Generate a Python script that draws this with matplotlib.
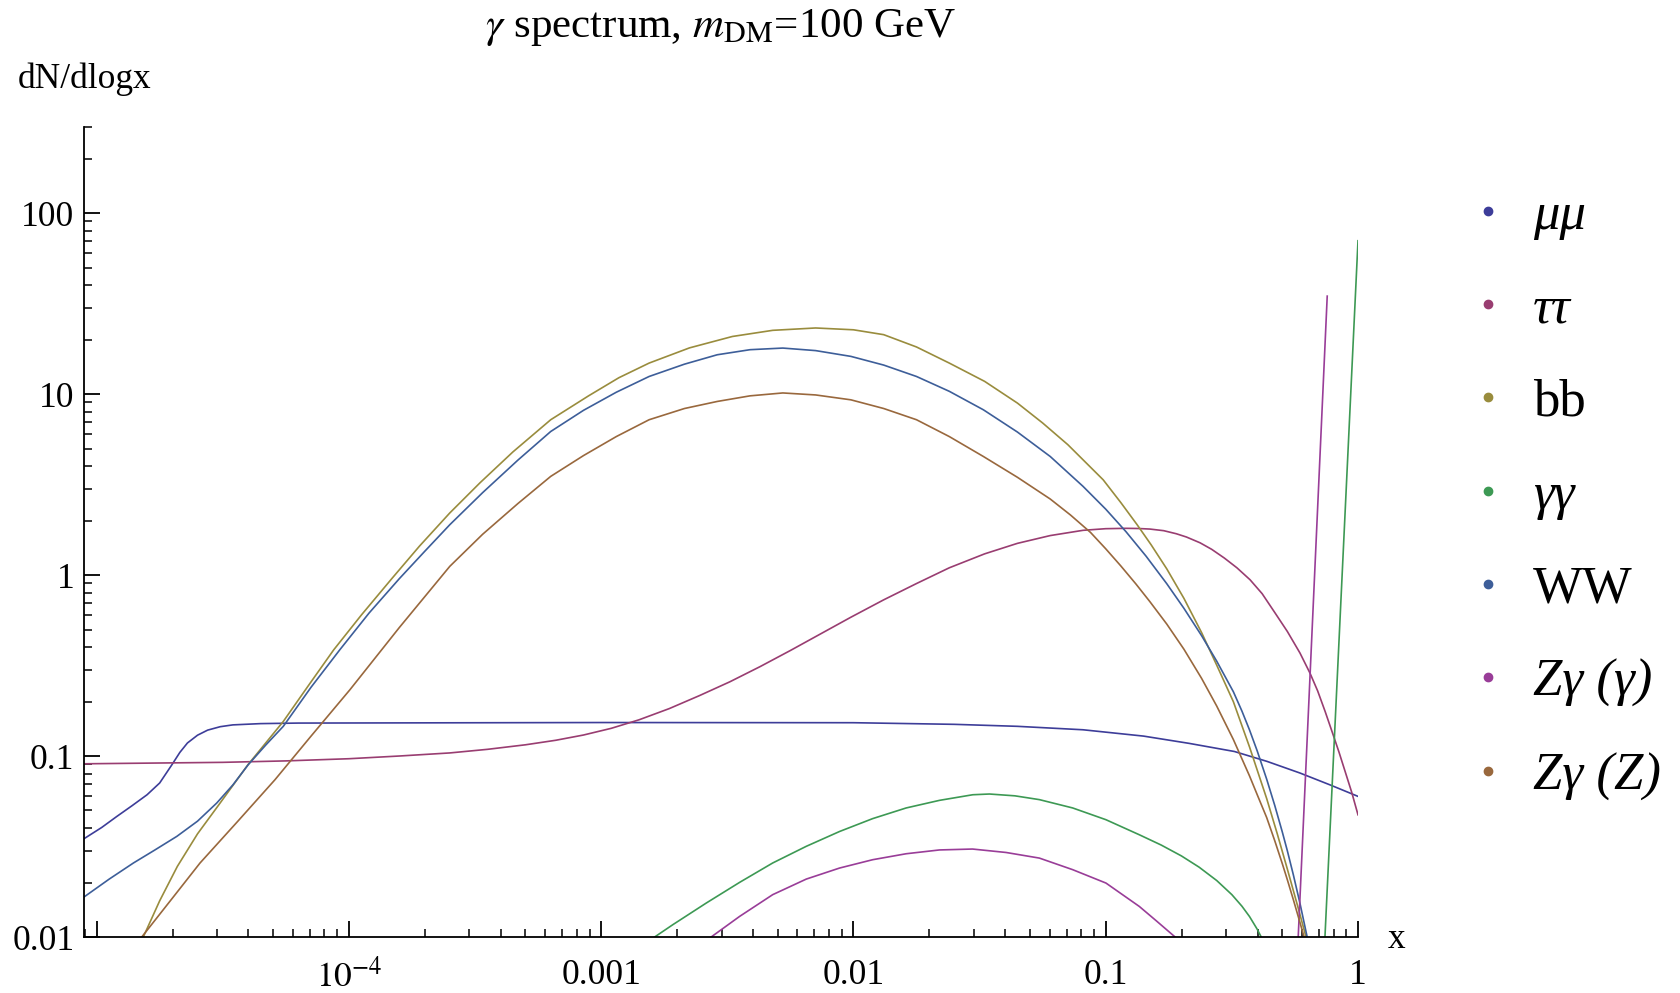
import numpy as np
import matplotlib
matplotlib.use('Agg')
import matplotlib.pyplot as plt
from matplotlib.lines import Line2D
from matplotlib.ticker import FixedLocator, FixedFormatter, LogLocator, NullFormatter

plt.rcParams['font.family'] = ['Liberation Serif', 'DejaVu Serif']
plt.rcParams['mathtext.fontset'] = 'stix'

# curves, stored as log10(x), log10(dN/dlogx)
mumu_lx = [-5.05, -4.98, -4.92, -4.86, -4.80, -4.75, -4.70, -4.67, -4.64, -4.60, -4.56, -4.51, -4.46, -4.35, -4.2,
           -3.0, -2.0, -1.6, -1.35, -1.09, -0.85, -0.67, -0.49, -0.36, -0.23, -0.11, 0.0]
mumu_ly = [-1.457, -1.395, -1.334, -1.275, -1.214, -1.149, -1.045, -0.98, -0.928, -0.885, -0.857, -0.838, -0.828, -0.821, -0.818,
           -0.815, -0.816, -0.825, -0.836, -0.855, -0.89, -0.93, -0.975, -1.03, -1.094, -1.16, -1.223]

tautau_lx = [-5.05, -4.5, -4.25, -4.0, -3.8, -3.6, -3.45, -3.3, -3.18, -3.07, -2.96, -2.85, -2.73, -2.61, -2.49,
             -2.37, -2.25, -2.13, -2.01, -1.88, -1.75, -1.62, -1.48, -1.35, -1.22, -1.09, -1.0, -0.92, -0.87,
             -0.825, -0.77, -0.72, -0.68, -0.626, -0.58, -0.53, -0.48, -0.428, -0.38, -0.33, -0.28, -0.23, -0.19,
             -0.16, -0.13, -0.098, -0.075, -0.05, -0.025, 0.0]
tautau_ly = [-1.043, -1.035, -1.027, -1.015, -1.0, -0.983, -0.963, -0.938, -0.913, -0.884, -0.847, -0.80, -0.738, -0.666, -0.59,
             -0.506, -0.417, -0.325, -0.233, -0.137, -0.047, 0.04, 0.117, 0.175, 0.218, 0.247, 0.256, 0.258, 0.257,
             0.254, 0.245, 0.228, 0.21, 0.178, 0.142, 0.094, 0.04, -0.026, -0.103, -0.207, -0.312, -0.431, -0.543,
             -0.64, -0.755, -0.885, -0.98, -1.09, -1.20, -1.325]

bb_lx = [-4.815, -4.75, -4.68, -4.60, -4.52, -4.40, -4.26, -4.16, -4.06, -3.95, -3.83, -3.72, -3.6, -3.48, -3.35,
         -3.2, -3.05, -2.93, -2.81, -2.65, -2.48, -2.32, -2.15, -2.0, -1.88, -1.75, -1.62, -1.48, -1.35, -1.25,
         -1.15, -1.01, -0.94, -0.875, -0.82, -0.758, -0.69, -0.62, -0.56, -0.494, -0.43, -0.362, -0.32, -0.28,
         -0.24, -0.204]
bb_ly = [-2.0, -1.80, -1.61, -1.43, -1.278, -1.048, -0.809, -0.61, -0.413, -0.22, -0.02, 0.16, 0.343, 0.51, 0.68,
         0.858, 0.99, 1.09, 1.171, 1.255, 1.318, 1.352, 1.365, 1.355, 1.328, 1.26, 1.171, 1.07, 0.95, 0.84,
         0.72, 0.526, 0.40, 0.277, 0.167, 0.034, -0.129, -0.318, -0.498, -0.70, -0.95, -1.235, -1.43, -1.625,
         -1.825, -2.01]

# gamma gamma: continuum arc + line near x=1
gg_lx = [-2.788, -2.716, -2.583, -2.451, -2.320, -2.187, -2.055, -1.924, -1.791, -1.659, -1.527, -1.461, -1.36,
         -1.263, -1.131, -0.999, -0.867, -0.78, -0.70, -0.63, -0.56, -0.50, -0.46, -0.43, -0.40, -0.38]
gg_ly = [-2.0, -1.932, -1.812, -1.698, -1.591, -1.499, -1.417, -1.346, -1.287, -1.245, -1.214, -1.210, -1.22,
         -1.241, -1.287, -1.352, -1.435, -1.492, -1.552, -1.614, -1.688, -1.766, -1.83, -1.887, -1.956, -2.01]
gg_line_lx = [-0.131, 0.0]
gg_line_ly = [-2.0, 1.847]

ww_lx = [-5.05, -4.95, -4.854, -4.77, -4.682, -4.60, -4.524, -4.46, -4.399, -4.33, -4.26, -4.15, -4.036, -3.92,
         -3.8, -3.7, -3.6, -3.47, -3.33, -3.2, -3.07, -2.94, -2.81, -2.67, -2.54, -2.41, -2.28, -2.15, -2.01,
         -1.88, -1.75, -1.62, -1.485, -1.35, -1.22, -1.09, -1.0, -0.92, -0.84, -0.758, -0.69, -0.62, -0.56,
         -0.494, -0.46, -0.43, -0.40, -0.362, -0.33, -0.30, -0.28, -0.256, -0.23, -0.20]
ww_ly = [-1.779, -1.68, -1.591, -1.52, -1.444, -1.36, -1.260, -1.16, -1.048, -0.94, -0.836, -0.62, -0.413, -0.21,
         -0.02, 0.13, 0.278, 0.455, 0.635, 0.793, 0.91, 1.01, 1.097, 1.165, 1.217, 1.245, 1.254, 1.24, 1.208,
         1.16, 1.097, 1.015, 0.913, 0.79, 0.655, 0.49, 0.364, 0.24, 0.104, -0.048, -0.184, -0.335, -0.476,
         -0.645, -0.752, -0.856, -0.97, -1.128, -1.273, -1.42, -1.524, -1.658, -1.814, -2.01]

zgg_lx = [-2.564, -2.451, -2.320, -2.187, -2.055, -1.924, -1.791, -1.659, -1.528, -1.395, -1.263, -1.131, -0.999,
          -0.867, -0.80, -0.725]
zgg_ly = [-2.0, -1.886, -1.766, -1.680, -1.619, -1.573, -1.540, -1.519, -1.514, -1.533, -1.564, -1.628, -1.702,
          -1.831, -1.91, -2.0]
zgg_line_lx = [-0.237, -0.122]
zgg_line_ly = [-2.0, 1.541]

zgz_lx = [-4.821, -4.70, -4.59, -4.44, -4.293, -4.15, -3.996, -3.80, -3.6, -3.47, -3.33, -3.2, -3.07, -2.94, -2.81,
          -2.67, -2.54, -2.41, -2.28, -2.15, -2.01, -1.88, -1.75, -1.62, -1.485, -1.35, -1.22, -1.14, -1.06,
          -1.0, -0.94, -0.88, -0.825, -0.758, -0.69, -0.62, -0.56, -0.494, -0.43, -0.40, -0.362, -0.33, -0.30,
          -0.28, -0.256, -0.23, -0.21]
zgz_ly = [-2.0, -1.786, -1.591, -1.36, -1.131, -0.89, -0.634, -0.29, 0.048, 0.225, 0.395, 0.545, 0.66, 0.765, 0.858,
          0.92, 0.959, 0.99, 1.006, 0.995, 0.968, 0.92, 0.858, 0.765, 0.655, 0.54, 0.42, 0.332, 0.235,
          0.145, 0.05, -0.05, -0.147, -0.271, -0.41, -0.571, -0.724, -0.909, -1.11, -1.212, -1.34, -1.468, -1.595,
          -1.684, -1.795, -1.92, -2.018]

labels = ['μμ', 'ττ', 'bb', 'γγ', 'WW', 'Zγ (γ)', 'Zγ (Z)']
italic = [True, True, False, True, False, True, True]
colors = ['#3d3d99', '#993d71', '#998c3d', '#3d9954', '#3d5e99', '#993d98', '#99683d']

xtick_vals = [1e-5, 1e-4, 1e-3, 1e-2, 1e-1, 1]
xtick_labels = ['', '$10^{-4}$', '0.001', '0.01', '0.1', '1']
ytick_vals = [0.01, 0.1, 1, 10, 100]
ytick_labels = ['0.01', '0.1', '1', '10', '100']

fig = plt.figure(figsize=(16.81, 9.93), dpi=100)
ax = fig.add_axes([84/1681, 1-937/993, (1358-84)/1681, (937-126.7)/993])

curves = [
    [(mumu_lx, mumu_ly)],
    [(tautau_lx, tautau_ly)],
    [(bb_lx, bb_ly)],
    [(gg_lx, gg_ly), (gg_line_lx, gg_line_ly)],
    [(ww_lx, ww_ly)],
    [(zgg_lx, zgg_ly), (zgg_line_lx, zgg_line_ly)],
    [(zgz_lx, zgz_ly)],
]
for parts, c in zip(curves, colors):
    for lx, ly in parts:
        ax.plot(10**np.array(lx), 10**np.array(ly), color=c, lw=1.2, solid_joinstyle='round')

ax.set_xscale('log')
ax.set_yscale('log')
ax.set_xlim(10**-5.05, 1)
ax.set_ylim(0.01, 300)

ax.xaxis.set_major_locator(FixedLocator(xtick_vals))
ax.xaxis.set_major_formatter(FixedFormatter(xtick_labels))
ax.xaxis.set_minor_locator(LogLocator(base=10, subs=np.arange(2, 10)))
ax.xaxis.set_minor_formatter(NullFormatter())
ax.yaxis.set_major_locator(FixedLocator(ytick_vals))
ax.yaxis.set_major_formatter(FixedFormatter(ytick_labels))
ax.yaxis.set_minor_locator(LogLocator(base=10, subs=np.arange(2, 10)))
ax.yaxis.set_minor_formatter(NullFormatter())

for s in ['top', 'right']:
    ax.spines[s].set_visible(False)
for s in ['left', 'bottom']:
    ax.spines[s].set_linewidth(1.3)
ax.tick_params(which='major', direction='in', length=11.5, width=1.3, labelsize=25.5)
ax.tick_params(which='minor', direction='in', length=5.5, width=1.1)
ax.tick_params(axis='x', which='major', pad=15.5)
ax.tick_params(axis='y', which='major', pad=7)

fig.text(721/1681, 1-28/993, r'$\gamma$ spectrum, $m_{\rm DM}$=100 GeV', ha='center', va='center', fontsize=31)
fig.text(18/1681, 1-79/993, 'dN/dlogx', ha='left', va='center', fontsize=25.5)
fig.text(1397/1681, 1-940/993, 'x', ha='center', va='center', fontsize=25.5)

handles = [Line2D([], [], ls='', marker='o', ms=6, color=c) for c in colors]
leg = fig.legend(handles, labels, loc='upper left', bbox_to_anchor=(1461.6/1681, 1-192/993),
                 frameon=False, fontsize=38, handlelength=1.0, handletextpad=0.35,
                 labelspacing=0.86, borderpad=0, borderaxespad=0)
for t, it in zip(leg.get_texts(), italic):
    if it:
        t.set_fontstyle('italic')

fig.savefig('out.png', dpi=100)
